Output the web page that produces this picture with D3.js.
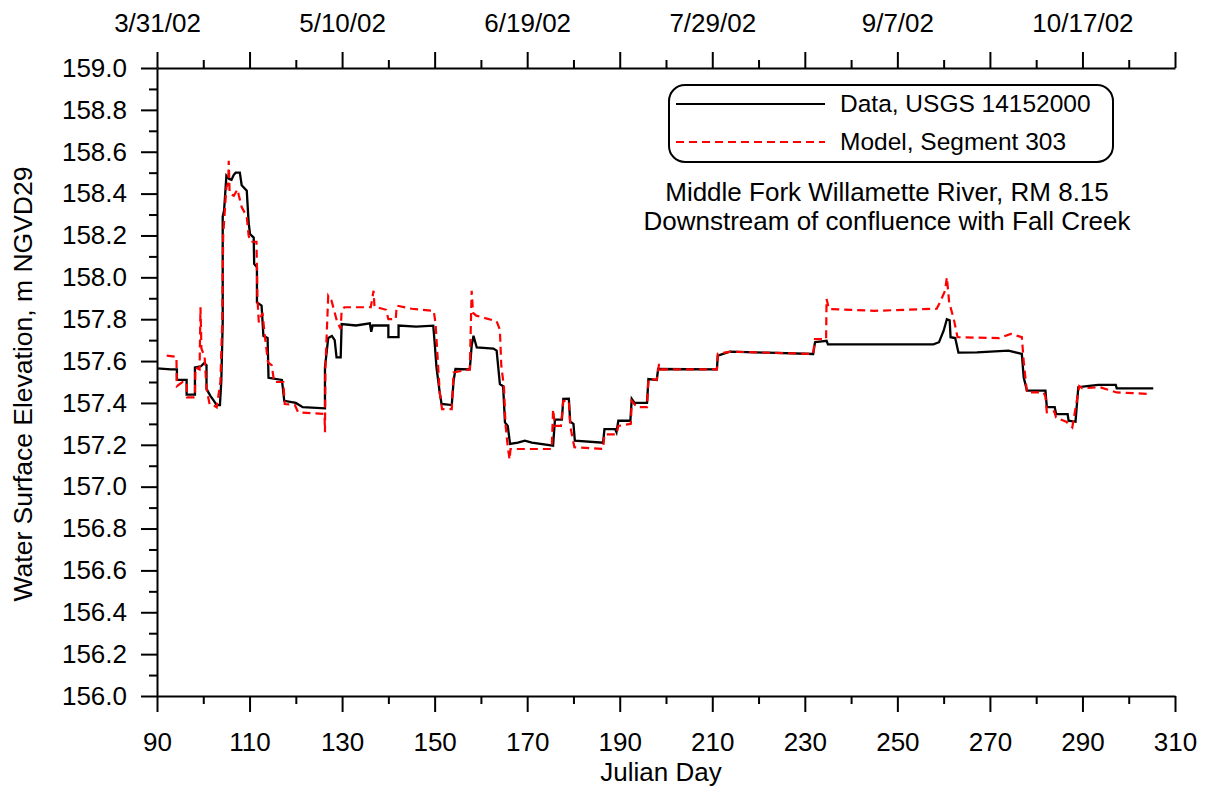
<!DOCTYPE html>
<html><head><meta charset="utf-8">
<script src="https://cdn.jsdelivr.net/npm/d3@7"></script>
<style>
body{margin:0;background:#fff;}
text{font-family:Arial,"Liberation Sans",sans-serif;fill:#000;}
</style></head>
<body><svg id="c" width="1208" height="789"></svg>
<script>
// ---- data (Julian day, elevation m) ----
const dataDays = [90,93,94.3,94.3,96.4,96.4,98.2,98.2,99.5,100.2,100.7,100.7,101.5,102.3,102.9,103.6,103.9,104.2,104.2,104.5,105,105.6,106.1,106.6,107,107.9,108.3,109.4,109.8,110.1,110.9,111,111.6,111.6,112.6,113,113.9,114.1,117,117.5,120,121.5,126.3,126.3,127,127.8,128.4,128.8,129.7,129.9,133,136,136.3,136.6,140,140,142.2,142.2,146,149.7,150,150.4,151.1,151.5,153.7,154.1,154.5,157.6,158,158.4,159.1,162.7,163.4,164.1,164.8,165.2,165.8,166.3,168,169.5,171,175.6,176,177.5,177.8,179,179.3,180,180.3,186.4,186.7,189,189.3,189.7,192.3,192.6,193.2,195.9,196.2,198,198.3,211,211.2,213.8,222,231.8,232.2,234.7,235,245,257.8,259,260,260.7,261.3,261.5,262.5,263.2,267.2,274,276.9,277.3,278,282,282.3,284,284.3,286.8,287,288.5,289.1,291,293.4,297.2,297.4,305.3];
const dataVals = [157.565,157.56,157.56,157.51,157.51,157.44,157.44,157.57,157.575,157.59,157.58,157.467,157.435,157.41,157.39,157.39,157.506,157.785,158.29,158.32,158.486,158.47,158.466,158.49,158.5,158.5,158.44,158.414,158.263,158.207,158.19,158.064,158.048,157.88,157.865,157.72,157.71,157.52,157.51,157.41,157.4,157.38,157.374,157.57,157.71,157.72,157.7,157.618,157.618,157.777,157.77,157.78,157.74,157.77,157.77,157.714,157.714,157.77,157.765,157.769,157.69,157.57,157.45,157.395,157.39,157.506,157.562,157.56,157.673,157.721,157.665,157.66,157.65,157.49,157.48,157.307,157.29,157.204,157.21,157.22,157.21,157.196,157.32,157.32,157.419,157.42,157.31,157.3,157.22,157.21,157.275,157.275,157.26,157.315,157.315,157.419,157.4,157.4,157.514,157.51,157.562,157.56,157.626,157.645,157.64,157.634,157.69,157.697,157.68,157.68,157.68,157.69,157.745,157.8,157.795,157.714,157.71,157.64,157.642,157.65,157.634,157.522,157.459,157.459,157.38,157.38,157.347,157.347,157.315,157.31,157.475,157.48,157.486,157.486,157.47,157.47];

const modelDays = [92.1,94.2,94.3,95.5,96.4,96.5,98.2,98.3,99.2,99.4,99.6,100.3,100.7,101.4,102.5,102.9,103.7,104.1,104.3,105,105.4,105.5,105.7,106.6,107.4,107.7,108.3,109.4,109.8,110.2,111.5,111.7,112,112.8,113.3,114,114.8,115.3,117.3,117.6,119.8,120.5,124,126.2,126.3,126.4,127,127.7,128.3,128.9,129.7,129.9,130.5,136.2,136.8,137,139.5,140,141.6,141.8,145,149.8,150.2,151.1,151.6,153.7,154.1,157.6,158,158.3,159,163.4,164.1,164.4,165,165.3,165.8,166.2,166.4,175.3,175.6,176,177.3,177.8,179,179.3,180.2,186.4,186.7,189.3,189.7,192.4,192.6,193.7,195.9,196.2,198,198.5,198.8,211,211.2,214,231.8,232.2,234.6,234.7,235.2,245,258.5,259.2,260.3,260.7,261.2,262.2,263,272,274.5,276.9,277.3,278,281.6,282,282.3,283.9,284.3,286.5,287.8,288.6,289.3,290,293.8,297.4,304.6];
const modelVals = [157.626,157.62,157.48,157.5,157.5,157.427,157.427,157.57,157.56,157.857,157.66,157.62,157.467,157.39,157.385,157.379,157.5,157.79,158.2,158.43,158.45,158.557,158.4,158.39,158.42,158.39,158.336,158.29,158.2,158.17,158.17,157.9,157.785,157.83,157.72,157.594,157.58,157.5,157.5,157.395,157.39,157.355,157.35,157.347,157.26,157.57,157.912,157.89,157.84,157.79,157.753,157.84,157.857,157.857,157.936,157.86,157.845,157.8,157.8,157.865,157.85,157.84,157.78,157.45,157.37,157.37,157.546,157.56,157.936,157.83,157.817,157.79,157.75,157.58,157.47,157.3,157.19,157.13,157.18,157.18,157.37,157.29,157.29,157.41,157.41,157.29,157.188,157.18,157.25,157.25,157.29,157.3,157.41,157.38,157.38,157.514,157.51,157.586,157.56,157.56,157.635,157.645,157.634,157.705,157.705,157.897,157.849,157.84,157.85,157.88,157.936,158.0,157.88,157.8,157.714,157.71,157.73,157.714,157.6,157.45,157.45,157.43,157.355,157.36,157.33,157.31,157.283,157.387,157.48,157.47,157.475,157.45,157.443];

const xMajorTicks = [90,110,130,150,170,190,210,230,250,270,290,310];
const xMinorTicks = [100,120,140,160,180,200,220,240,260,280,300];
const yMajorTicks = [156.0,156.2,156.4,156.6,156.8,157.0,157.2,157.4,157.6,157.8,158.0,158.2,158.4,158.6,158.8,159.0];
const yMinorTicks = [156.1,156.3,156.5,156.7,156.9,157.1,157.3,157.5,157.7,157.9,158.1,158.3,158.5,158.7,158.9];
const topTickDays = [90,130,170,210,250,290];
const topTickLabels = ["3/31/02","5/10/02","6/19/02","7/29/02","9/7/02","10/17/02"];
const seriesNames = ["Data, USGS 14152000","Model, Segment 303"];
const noteLines = ["Middle Fork Willamette River, RM 8.15","Downstream of confluence with Fall Creek"];

// ---- layout ----
const svg = d3.select("#c");
const L=157, R=1175, T=68, B=696;
const x = d3.scaleLinear().domain([90,310]).range([L,R]);
const y = d3.scaleLinear().domain([156,159]).range([B,T]);
const tickFont = 26;

function styleAxis(g){
  g.selectAll("path,line").attr("stroke","#000").attr("stroke-width",2);
  g.selectAll("text").attr("font-size",tickFont).attr("font-family","Arial, 'Liberation Sans', sans-serif");
}
// bottom
svg.append("g").attr("transform",`translate(0,${B})`)
  .call(d3.axisBottom(x).tickValues(xMajorTicks).tickSize(16).tickSizeOuter(0).tickPadding(21).tickFormat(d3.format("d")))
  .call(styleAxis);
svg.append("g").attr("transform",`translate(0,${B})`)
  .call(d3.axisBottom(x).tickValues(xMinorTicks).tickSize(8).tickFormat(""))
  .call(g=>g.select(".domain").remove()).call(styleAxis);
// left
svg.append("g").attr("transform",`translate(${L},0)`)
  .call(d3.axisLeft(y).tickValues(yMajorTicks).tickSize(16).tickSizeOuter(0).tickPadding(14).tickFormat(d3.format(".1f")))
  .call(styleAxis);
svg.append("g").attr("transform",`translate(${L},0)`)
  .call(d3.axisLeft(y).tickValues(yMinorTicks).tickSize(8).tickFormat(""))
  .call(g=>g.select(".domain").remove()).call(styleAxis);
// top
const topLab = new Map(topTickDays.map((d,i)=>[d,topTickLabels[i]]));
svg.append("g").attr("transform",`translate(0,${T})`)
  .call(d3.axisTop(x).tickValues(xMajorTicks).tickSize(16).tickSizeOuter(0).tickPadding(20).tickFormat(d=>topLab.get(d)||""))
  .call(styleAxis);
svg.append("g").attr("transform",`translate(0,${T})`)
  .call(d3.axisTop(x).tickValues(xMinorTicks).tickSize(8).tickFormat(""))
  .call(g=>g.select(".domain").remove()).call(styleAxis);

// axis titles
svg.append("text").attr("x",661).attr("y",781).attr("text-anchor","middle").attr("font-size",26).text("Julian Day");
svg.append("text").attr("transform","translate(32,384) rotate(-90)").attr("text-anchor","middle").attr("font-size",26.5).text("Water Surface Elevation, m NGVD29");

// lines
const line = d3.line().x(d=>x(d[0])).y(d=>y(d[1]));
const dataPts = dataDays.map((d,i)=>[d,dataVals[i]]);
const modelPts = modelDays.map((d,i)=>[d,modelVals[i]]);
svg.append("path").datum(dataPts).attr("d",line).attr("fill","none").attr("stroke","#000").attr("stroke-width",2.3);
svg.append("path").datum(modelPts).attr("d",line).attr("fill","none").attr("stroke","#ff0000").attr("stroke-width",2.2).attr("stroke-dasharray","8,5");

// legend
svg.append("rect").attr("x",669).attr("y",85).attr("width",444).attr("height",77).attr("rx",16).attr("ry",16)
  .attr("fill","#fff").attr("stroke","#000").attr("stroke-width",2);
svg.append("line").attr("x1",676).attr("x2",825).attr("y1",104).attr("y2",104).attr("stroke","#000").attr("stroke-width",2);
svg.append("line").attr("x1",676).attr("x2",825).attr("y1",142).attr("y2",142).attr("stroke","#ff0000").attr("stroke-width",2).attr("stroke-dasharray","8,5");
svg.append("text").attr("x",840).attr("y",112).attr("font-size",24.5).text(seriesNames[0]);
svg.append("text").attr("x",840).attr("y",150).attr("font-size",24.5).text(seriesNames[1]);

// note
svg.append("text").attr("x",887).attr("y",201).attr("text-anchor","middle").attr("font-size",26).text(noteLines[0]);
svg.append("text").attr("x",887).attr("y",230).attr("text-anchor","middle").attr("font-size",26).text(noteLines[1]);
</script></body></html>
